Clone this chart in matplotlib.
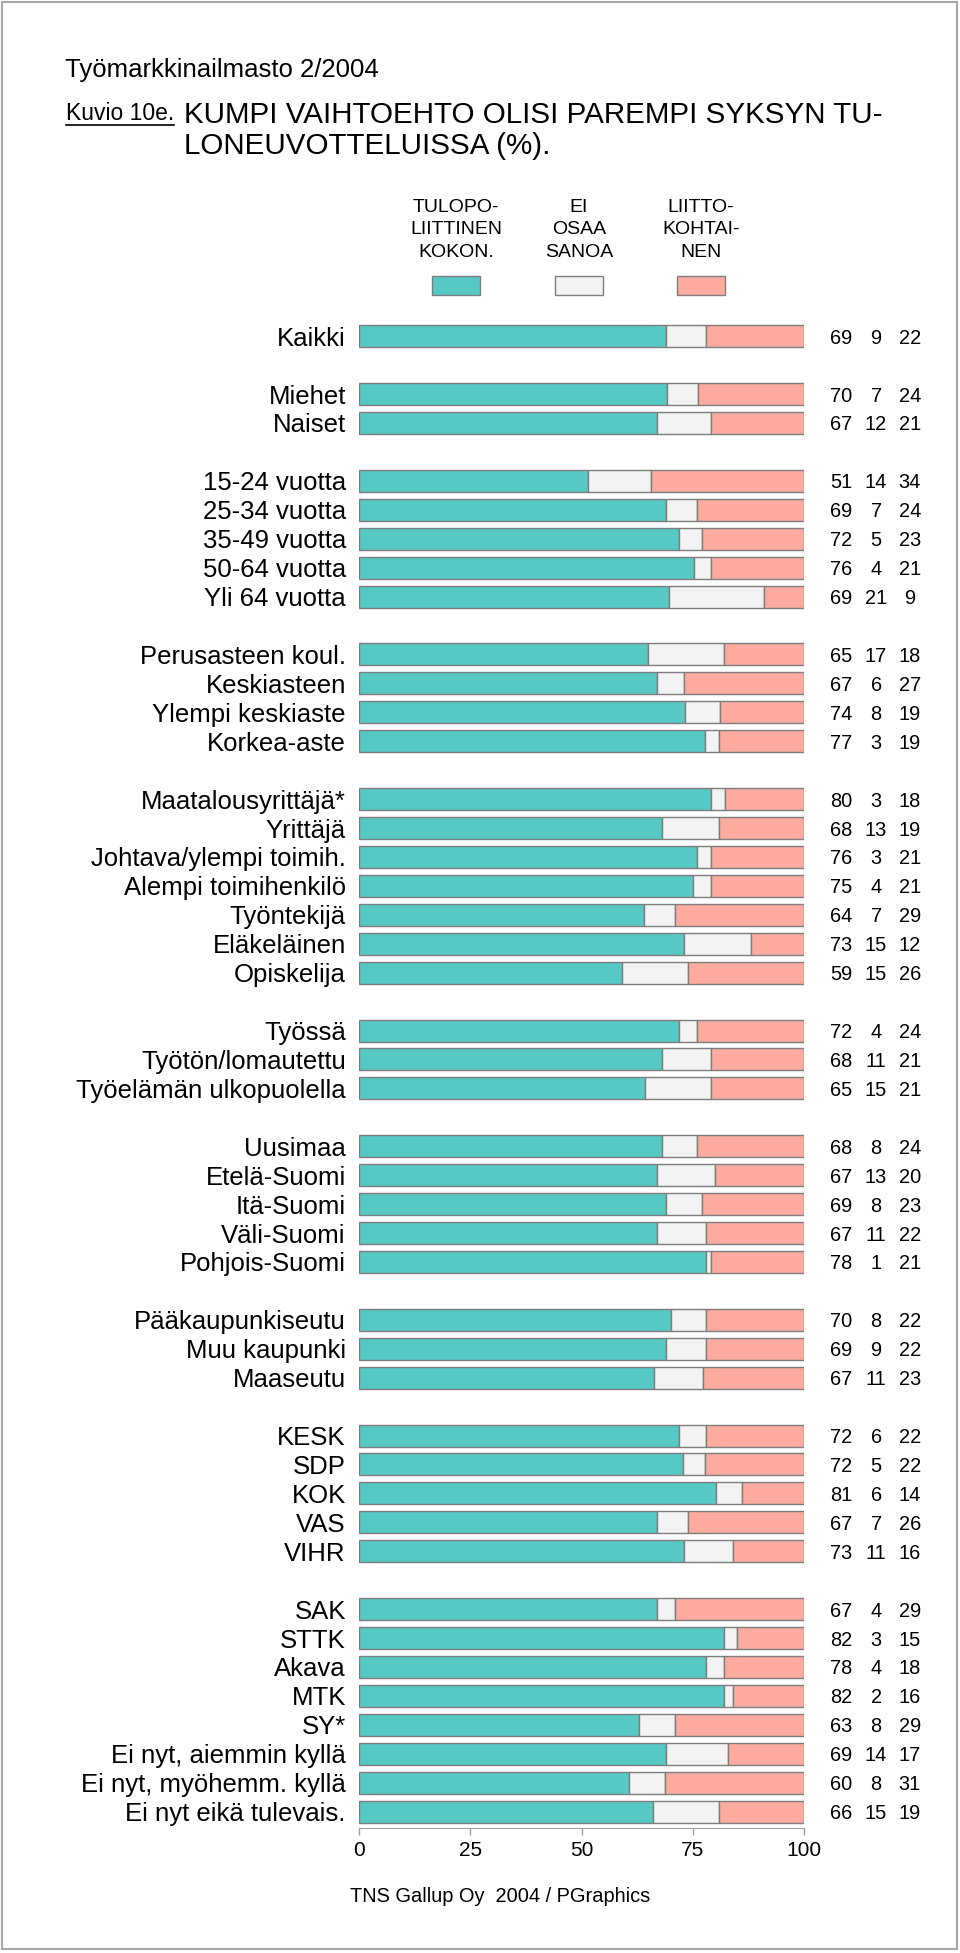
import matplotlib
matplotlib.use("Agg")
import matplotlib.pyplot as plt
from matplotlib.patches import Rectangle
from matplotlib.lines import Line2D
import numpy as np

plt.rcParams['font.family'] = ['Liberation Sans', 'DejaVu Sans']

W, H = 960, 1953
DPI = 100

TEAL = "#56c9c4"
GREY = "#f3f3f3"
SALMON = "#fcab9e"
EDGE = "#7d7d7d"

# data
categories = [
    "Kaikki",
    "Miehet", "Naiset",
    "15-24 vuotta", "25-34 vuotta", "35-49 vuotta", "50-64 vuotta", "Yli 64 vuotta",
    "Perusasteen koul.", "Keskiasteen", "Ylempi keskiaste", "Korkea-aste",
    "Maatalousyrittäjä*", "Yrittäjä", "Johtava/ylempi toimih.", "Alempi toimihenkilö",
    "Työntekijä", "Eläkeläinen", "Opiskelija",
    "Työssä", "Työtön/lomautettu", "Työelämän ulkopuolella",
    "Uusimaa", "Etelä-Suomi", "Itä-Suomi", "Väli-Suomi", "Pohjois-Suomi",
    "Pääkaupunkiseutu", "Muu kaupunki", "Maaseutu",
    "KESK", "SDP", "KOK", "VAS", "VIHR",
    "SAK", "STTK", "Akava", "MTK", "SY*",
    "Ei nyt, aiemmin kyllä", "Ei nyt, myöhemm. kyllä", "Ei nyt eikä tulevais.",
]
group_sizes = [1, 2, 5, 4, 7, 3, 5, 3, 5, 8]

tulopoliittinen = [69, 70, 67, 51, 69, 72, 76, 69, 65, 67, 74, 77, 80, 68, 76, 75, 64, 73, 59,
                   72, 68, 65, 68, 67, 69, 67, 78, 70, 69, 67, 72, 72, 81, 67, 73,
                   67, 82, 78, 82, 63, 69, 60, 66]
ei_osaa = [9, 7, 12, 14, 7, 5, 4, 21, 17, 6, 8, 3, 3, 13, 3, 4, 7, 15, 15,
           4, 11, 15, 8, 13, 8, 11, 1, 8, 9, 11, 6, 5, 6, 7, 11,
           4, 3, 4, 2, 8, 14, 8, 15]
liittokohtainen = [22, 24, 21, 34, 24, 23, 21, 9, 18, 27, 19, 19, 18, 19, 21, 21, 29, 12, 26,
                   24, 21, 21, 24, 20, 23, 22, 21, 22, 22, 23, 22, 22, 14, 26, 16,
                   29, 15, 18, 16, 29, 17, 31, 19]

legend_labels = ["TULOPO-\nLIITTINEN\nKOKON.", "EI\nOSAA\nSANOA", "LIITTO-\nKOHTAI-\nNEN"]
x_ticks = [0, 25, 50, 75, 100]


def fx(px):
    return px / W


def fy(py):
    return 1 - py / H


# one empty slot between groups
slots = []
pos = 0
for size in group_sizes:
    slots.extend(range(pos, pos + size))
    pos += size + 1
slots = np.array(slots)

vals = np.array([tulopoliittinen, ei_osaa, liittokohtainen], dtype=float)
shares = vals / vals.sum(axis=0) * 100

fig = plt.figure(figsize=(W / DPI, H / DPI), dpi=DPI)

row_top = 336.2
pitch = 28.93
ax_top = row_top - 0.6 * pitch
ax_bottom = 1828
ax = fig.add_axes([fx(359), fy(ax_bottom), fx(804) - fx(359), (ax_bottom - ax_top) / H])
ax.set_xlim(0, 100)
ax.set_ylim((ax_bottom - row_top) / pitch, -0.6)

left = np.zeros(len(categories))
for share, color in zip(shares, [TEAL, GREY, SALMON]):
    ax.barh(slots, share, left=left, height=0.76, color=color, edgecolor=EDGE, linewidth=1)
    left += share

ax.set_yticks(slots, categories, fontsize=18.5)
ax.tick_params(axis='y', length=0, pad=9.5)
ax.set_xticks(x_ticks, [str(t) for t in x_ticks], fontsize=15)
ax.tick_params(axis='x', length=5, width=1, color='#a0a0a0', pad=4)
for side in ['left', 'right', 'top']:
    ax.spines[side].set_visible(False)
ax.spines['bottom'].set_color('#a0a0a0')
ax.spines['bottom'].set_bounds(0, 100)

# value columns
col_x = [108.3, 116.2, 123.8]
for series, cx in zip(vals, col_x):
    for s, v in zip(slots, series):
        ax.text(cx, s, f"{int(v)}", ha='center', va='center_baseline', fontsize=14.4)

# header
fig.text(fx(65), fy(77), "Työmarkkinailmasto 2/2004", fontsize=18.5, va='baseline')
kuvio = fig.text(fx(66), fy(119.5), "Kuvio 10e.", fontsize=16.5, va='baseline')
fig.text(fx(184), fy(123), "KUMPI VAIHTOEHTO OLISI PAREMPI SYKSYN TU-", fontsize=21.3, va='baseline')
fig.text(fx(184), fy(154), "LONEUVOTTELUISSA (%).", fontsize=21.3, va='baseline')

fig.canvas.draw()
bb = kuvio.get_window_extent()
fig.add_artist(Line2D([bb.x0 / W, bb.x1 / W], [fy(124.5), fy(124.5)], color='black', lw=1.2))

# legend
legend_x = [456, 579, 701]
for lab, cx, color in zip(legend_labels, legend_x, [TEAL, GREY, SALMON]):
    fig.text(fx(cx), fy(230), lab, fontsize=14, ha='center', va='center', linespacing=1.41)
    fig.add_artist(Rectangle((fx(cx - 24), fy(295)), 48 / W, 19 / H, transform=fig.transFigure,
                             facecolor=color, edgecolor=EDGE, lw=1))

fig.text(fx(350), fy(1902), "TNS Gallup Oy  2004 / PGraphics", fontsize=14.4, va='baseline')

# frame
fig.add_artist(Rectangle((fx(2), fy(1949)), 955 / W, 1947 / H, transform=fig.transFigure,
                         fill=False, edgecolor='#a6a6a6', lw=1.5))

fig.savefig("out.png", dpi=DPI)
